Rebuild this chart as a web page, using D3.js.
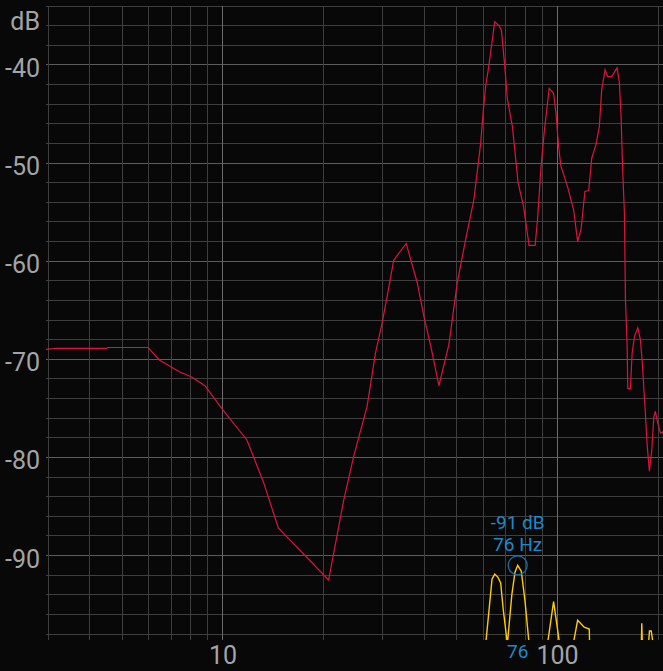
<!DOCTYPE html>
<html>
<head>
<meta charset="utf-8">
<script src="https://cdn.jsdelivr.net/npm/d3@7"></script>
<style>
  html, body { margin: 0; padding: 0; background: #080808; overflow: hidden; }
  text { font-family: Roboto, "Noto Sans", sans-serif; }
</style>
</head>
<body>
<div id="chart"></div>
<script>
// red response curve: [Hz, dB]
var redCurve = [
  [2.95, -69.0], [3.17, -68.9], [4.48, -68.9], [4.53, -68.8], [5.97, -68.8],
  [6.47, -70.1], [7.43, -71.3], [8.06, -71.8], [8.83, -72.7], [10.02, -75.2],
  [11.78, -78.2], [13.21, -82.5], [14.64, -87.2], [20.69, -92.5], [22.94, -84.4],
  [24.58, -79.9], [26.96, -74.8], [28.55, -69.4], [29.9, -66.3], [30.95, -63.6],
  [32.38, -59.9], [35.28, -58.2], [38.07, -62.2], [39.84, -65.6], [41.93, -68.9],
  [44.19, -72.7], [47.33, -68.5], [50.15, -62.2], [53.11, -57.8], [56.24, -53.7],
  [58.9, -48.0], [60.0, -44.6], [60.96, -42.2], [62.37, -40.0], [63.85, -37.4],
  [64.87, -35.6], [66.83, -36.0], [67.95, -36.5], [69.52, -40.1], [70.8, -43.5],
  [73.3, -46.3], [76.2, -52.0], [79.1, -54.4], [82.2, -58.4], [85.7, -58.4],
  [87.1, -55.8], [89.1, -50.7], [91.2, -46.9], [94.4, -42.4], [97.3, -42.9],
  [98.9, -44.9], [100.7, -48.3], [102.3, -50.3], [107.1, -52.4], [111.7, -54.8],
  [114.8, -58.0], [117.5, -56.8], [120.7, -52.9], [123.9, -52.8], [126.5, -49.5],
  [130.3, -48.1], [133.3, -46.3], [135.5, -42.5], [138.7, -40.5], [141.2, -41.2],
  [145.2, -41.2], [150.6, -40.3], [153.0, -41.8], [154.8, -45.2], [156.6, -51.0],
  [158.4, -55.1], [159.5, -63.8], [161.4, -68.7], [162.1, -73.0], [165.1, -73.0],
  [167.0, -69.4], [169.7, -67.7], [173.7, -66.8], [176.8, -68.0], [178.9, -70.1],
  [181.7, -73.8], [183.0, -75.5], [185.1, -78.6], [188.1, -81.4], [191.2, -79.3],
  [193.9, -75.9], [196.0, -75.3], [199.3, -76.5], [202.9, -77.5], [206.3, -77.4],
  [208.2, -77.9], [212, -78.2]
];

// yellow spectrum: [Hz, dB]
var yellowCurve = [
  [61.0, -99], [63.7, -92.4], [64.9, -91.9], [66.3, -92.2], [67.6, -92.8],
  [68.8, -95.5], [70.8, -99], [73.0, -94.0], [74.6, -91.7], [76.0, -91.0],
  [77.9, -91.6], [79.9, -94.6], [82.2, -99], [93.3, -99], [97.3, -94.7],
  [101.4, -99], [111.4, -99], [114.8, -96.6], [120.1, -97.3], [124.4, -97.5],
  [124.6, -99], [178.0, -99], [178.5, -96.9], [179.2, -99], [187.0, -99],
  [188.2, -97.7], [190.5, -97.7], [193.0, -99]
];

var freqMinor = [3, 4, 5, 6, 7, 8, 9, 20, 30, 40, 50, 60, 70, 80, 90, 200];
var freqMajor = [10, 100];
var freqLabels = [10, 100];
var dbLines = d3.range(-34, -99, -2);
var dbLabels = [-40, -50, -60, -70, -80, -90];

var markerFreq = 76, markerDb = -91;

var width = 663, height = 671;

var x = d3.scaleLog().domain([3, 200]).range([48, 658.3]);
var y = d3.scaleLinear().domain([-34, -98]).range([6, 634]);

var svg = d3.select("#chart").append("svg")
  .attr("width", width)
  .attr("height", height)
  .style("display", "block")
  .style("background", "#080808");

svg.append("defs").append("clipPath").attr("id", "plotClip")
  .append("rect").attr("x", 46).attr("y", 0).attr("width", width - 46).attr("height", 640);

// horizontal grid
svg.append("g").selectAll("line")
  .data(dbLines)
  .enter().append("line")
  .attr("x1", 46).attr("x2", width)
  .attr("y1", d => y(d)).attr("y2", d => y(d))
  .attr("stroke", d => d % 10 === 0 ? "#5c5c5c" : "#3e3e3e")
  .attr("stroke-width", 1)
  .attr("shape-rendering", "crispEdges");

// vertical grid
svg.append("g").selectAll("line")
  .data(freqMinor.concat(freqMajor))
  .enter().append("line")
  .attr("x1", d => x(d)).attr("x2", d => x(d))
  .attr("y1", y(-34)).attr("y2", 640)
  .attr("stroke", d => freqMajor.includes(d) ? "#6a6a6a" : "#3e3e3e")
  .attr("stroke-width", 1)
  .attr("shape-rendering", "crispEdges");

// y labels
svg.append("g").selectAll("text")
  .data(dbLabels)
  .enter().append("text")
  .attr("x", 40)
  .attr("y", d => y(d) + 12)
  .attr("text-anchor", "end")
  .attr("fill", "#a4a4a4")
  .attr("font-size", 25)
  .text(d => d);

svg.append("text")
  .attr("x", 40).attr("y", 30)
  .attr("text-anchor", "end")
  .attr("fill", "#a4a4a4")
  .attr("font-size", 25)
  .text("dB");

// x labels
svg.append("g").selectAll("text")
  .data(freqLabels)
  .enter().append("text")
  .attr("x", d => x(d))
  .attr("y", 664)
  .attr("text-anchor", "middle")
  .attr("fill", "#a4a4a4")
  .attr("font-size", 25)
  .text(d => d);

var line = d3.line()
  .x(d => x(d[0]))
  .y(d => y(d[1]));

var plot = svg.append("g").attr("clip-path", "url(#plotClip)");

plot.append("path")
  .datum(redCurve)
  .attr("d", line)
  .attr("fill", "none")
  .attr("stroke", "#dc143c")
  .attr("stroke-width", 1.2);

plot.append("path")
  .datum(yellowCurve)
  .attr("d", line)
  .attr("fill", "none")
  .attr("stroke", "#ffcc00")
  .attr("stroke-width", 1.4);

// marker
var mx = x(markerFreq), my = y(markerDb);
svg.append("circle")
  .attr("cx", mx).attr("cy", my).attr("r", 9.5)
  .attr("fill", "none")
  .attr("stroke", "#1b6fa3")
  .attr("stroke-width", 1.3);

svg.append("text")
  .attr("x", mx).attr("y", my - 36)
  .attr("text-anchor", "middle")
  .attr("fill", "#1e88c8")
  .attr("font-size", 19)
  .text(markerDb + " dB");

svg.append("text")
  .attr("x", mx).attr("y", my - 14)
  .attr("text-anchor", "middle")
  .attr("fill", "#1e88c8")
  .attr("font-size", 19)
  .text(markerFreq + " Hz");

svg.append("text")
  .attr("x", mx).attr("y", 658)
  .attr("text-anchor", "middle")
  .attr("fill", "#1e88c8")
  .attr("font-size", 19)
  .text(markerFreq);
</script>
</body>
</html>
